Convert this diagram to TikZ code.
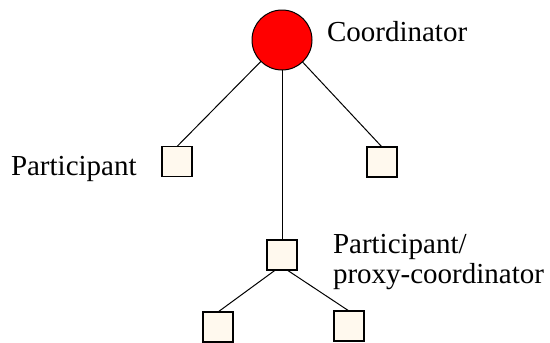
\documentclass[tikz,border=0pt]{standalone}
\usepackage{fontspec}
\newfontfamily\fa{Liberation Serif}
\usetikzlibrary{calc}
\definecolor{cream}{HTML}{FFF9EE}
\definecolor{coordred}{HTML}{FF0000}
\tikzset{
  party/.style={draw=black,line width=1.2pt,fill=cream,minimum size=30pt,inner sep=0pt,outer sep=0pt},
  coord/.style={circle,draw=black,line width=1pt,fill=coordred,minimum size=60pt,inner sep=0pt,outer sep=0pt},
  lbl/.style={anchor=base west,inner sep=0pt,outer sep=0pt,font=\fa\fontsize{29}{29.5}\selectfont},
  link/.style={draw=black,line width=1pt}}
\begin{document}
\begin{tikzpicture}[x=1pt,y=-1pt]
\useasboundingbox (0,0) rectangle (550,343);
\node[lbl] (tc) at (327,41.7) {Coordinator};
\node[lbl] (tp) at (11,175) {Participant};
\node[lbl,align=left] (tm) at (333,283.3) {Participant/\\proxy-coordinator};
\node[coord] (c) at (282,40) {};
\node[party] (l) at (177,161.5) {};
\node[party] (r) at (382,162) {};
\node[party] (m) at (282,255) {};
\node[party] (bl) at (218,327) {};
\node[party] (br) at (349,326) {};
\draw[link] (c) -- (l.north);
\draw[link] (c) -- (r.north);
\draw[link] (c) -- (m);
\draw[link] ($(m.south west)!0.28!(m.south east)$) -- (bl.north);
\draw[link] ($(m.south west)!0.67!(m.south east)$) -- (br.north);
\end{tikzpicture}
\end{document}
